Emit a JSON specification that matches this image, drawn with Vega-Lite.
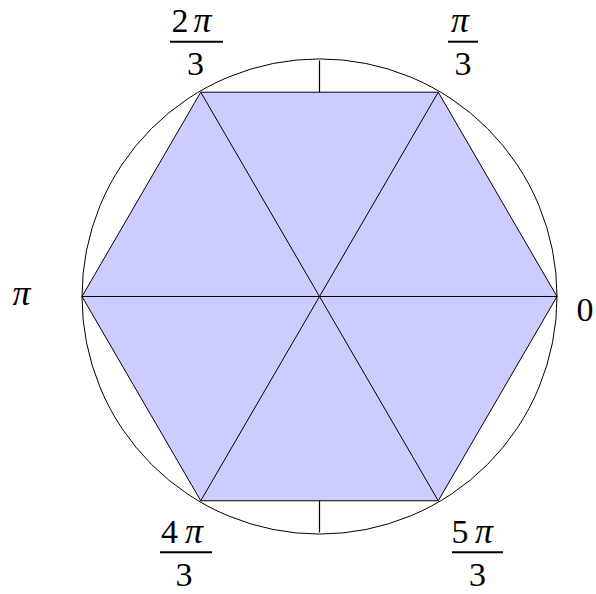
{
  "$schema": "https://vega.github.io/schema/vega-lite/v6.json",
  "width": 596,
  "height": 594,
  "autosize": {"type": "fit", "contains": "padding"},
  "padding": 0,
  "background": "white",
  "config": {"view": {"stroke": null}},
  "layer": [
    {
      "data": {"values": [{"x": 0, "y": -1, "x2": 0, "y2": 1}]},
      "mark": {"type": "rule", "color": "black", "strokeWidth": 1.2},
      "encoding": {
        "x": {"field": "x", "type": "quantitative", "scale": {"domain": [-1.3453, 1.1642], "nice": false, "zero": false}, "axis": null},
        "y": {"field": "y", "type": "quantitative", "scale": {"domain": [-1.2442, 1.2568], "nice": false, "zero": false}, "axis": null},
        "x2": {"field": "x2"},
        "y2": {"field": "y2"}
      }
    },
    {
      "data": {"values": [
        {"x": -1, "top": 0, "bottom": 0},
        {"x": -0.5, "top": 0.8660, "bottom": -0.8660},
        {"x": 0.5, "top": 0.8660, "bottom": -0.8660},
        {"x": 1, "top": 0, "bottom": 0}
      ]},
      "mark": {"type": "area", "color": "#CCCCFF", "opacity": 1, "interpolate": "linear"},
      "encoding": {
        "x": {"field": "x", "type": "quantitative"},
        "y": {"field": "top", "type": "quantitative"},
        "y2": {"field": "bottom"}
      }
    },
    {
      "data": {"values": [
        {"x": -1, "y": 0, "x2": 1, "y2": 0},
        {"x": -0.5, "y": 0.8660, "x2": 0.5, "y2": -0.8660},
        {"x": 0.5, "y": 0.8660, "x2": -0.5, "y2": -0.8660},
        {"x": 1, "y": 0, "x2": 0.5, "y2": 0.8660},
        {"x": 0.5, "y": 0.8660, "x2": -0.5, "y2": 0.8660},
        {"x": -0.5, "y": 0.8660, "x2": -1, "y2": 0},
        {"x": -1, "y": 0, "x2": -0.5, "y2": -0.8660},
        {"x": -0.5, "y": -0.8660, "x2": 0.5, "y2": -0.8660},
        {"x": 0.5, "y": -0.8660, "x2": 1, "y2": 0}
      ]},
      "mark": {"type": "rule", "color": "black", "strokeWidth": 1},
      "encoding": {
        "x": {"field": "x", "type": "quantitative"},
        "y": {"field": "y", "type": "quantitative"},
        "x2": {"field": "x2"},
        "y2": {"field": "y2"}
      }
    },
    {
      "data": {"values": [{"x": 0, "y": 0}]},
      "mark": {"type": "point", "shape": "circle", "filled": false, "size": 225625, "stroke": "black", "strokeWidth": 1, "opacity": 1},
      "encoding": {
        "x": {"field": "x", "type": "quantitative"},
        "y": {"field": "y", "type": "quantitative"}
      }
    },
    {
      "data": {"values": [
        {"x": -0.6295, "x2": -0.4063, "y": 1.0800},
        {"x": 0.5411, "x2": 0.6674, "y": 1.0800},
        {"x": -0.6716, "x2": -0.4526, "y": -1.0842},
        {"x": 0.5579, "x2": 0.7726, "y": -1.0842}
      ]},
      "mark": {"type": "rule", "color": "black", "strokeWidth": 2},
      "encoding": {
        "x": {"field": "x", "type": "quantitative"},
        "x2": {"field": "x2"},
        "y": {"field": "y", "type": "quantitative"}
      }
    },
    {
      "data": {"values": [
        {"x": -0.5874, "y": 1.1221, "label": "2"},
        {"x": -0.5221, "y": 0.9368, "label": "3"},
        {"x": 0.6042, "y": 0.9368, "label": "3"},
        {"x": -0.6316, "y": -1.0463, "label": "4"},
        {"x": -0.5705, "y": -1.2274, "label": "3"},
        {"x": 0.5916, "y": -1.0463, "label": "5"},
        {"x": 0.6653, "y": -1.2274, "label": "3"},
        {"x": 1.1179, "y": -0.1032, "label": "0"}
      ]},
      "mark": {"type": "text", "font": "Liberation Serif", "fontSize": 34, "align": "center", "baseline": "alphabetic", "color": "black"},
      "encoding": {
        "x": {"field": "x", "type": "quantitative"},
        "y": {"field": "y", "type": "quantitative"},
        "text": {"field": "label"}
      }
    },
    {
      "data": {"values": [
        {"x": -0.4926, "y": 1.1221, "label": "π"},
        {"x": 0.5916, "y": 1.1221, "label": "π"},
        {"x": -0.5284, "y": -1.0463, "label": "π"},
        {"x": 0.6926, "y": -1.0463, "label": "π"},
        {"x": -1.2547, "y": -0.0358, "label": "π"}
      ]},
      "mark": {"type": "text", "font": "Liberation Serif", "fontSize": 36, "fontStyle": "italic", "align": "center", "baseline": "alphabetic", "color": "black"},
      "encoding": {
        "x": {"field": "x", "type": "quantitative"},
        "y": {"field": "y", "type": "quantitative"},
        "text": {"field": "label"}
      }
    }
  ]
}
